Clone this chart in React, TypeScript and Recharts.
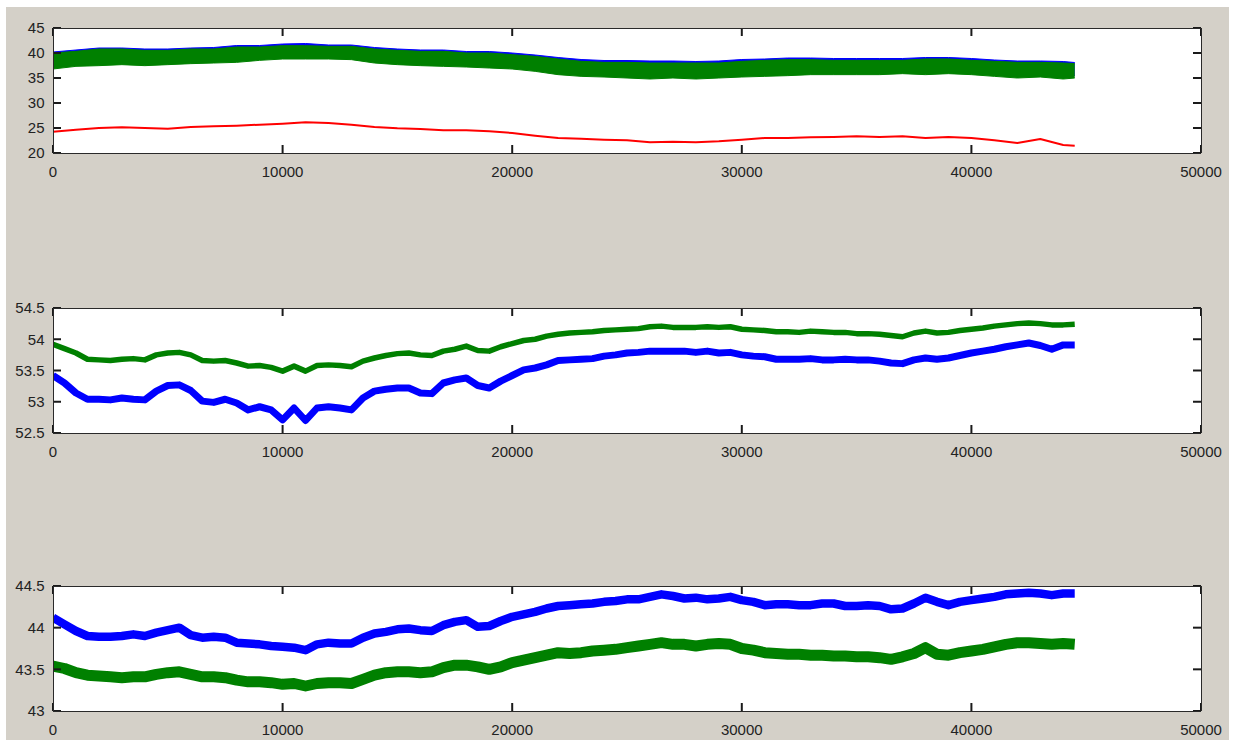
import React from 'react';
import { ComposedChart, Line, Area, XAxis, YAxis, ReferenceLine } from 'recharts';

// ---------- data ----------
const X_TICKS = [0, 10000, 20000, 30000, 40000, 50000];
const Y1_TICKS = [20, 25, 30, 35, 40, 45];
const Y2_TICKS = [52.5, 53, 53.5, 54, 54.5];
const Y3_TICKS = [43, 43.5, 44, 44.5];

// top panel sample positions
const P1_X = [
  0, 1000, 2000, 3000, 4000, 5000, 6000, 7000, 8000, 9000,
  10000, 11000, 12000, 13000, 14000, 15000, 16000, 17000, 18000, 19000,
  20000, 21000, 22000, 23000, 24000, 25000, 26000, 27000, 28000, 29000,
  30000, 31000, 32000, 33000, 34000, 35000, 36000, 37000, 38000, 39000,
  40000, 41000, 42000, 43000, 44000, 44500,
];
const P1_RED = [
  24.27, 24.67, 25.0, 25.13, 25.0, 24.87, 25.2, 25.33, 25.47, 25.67,
  25.87, 26.13, 26.0, 25.67, 25.2, 24.93, 24.8, 24.53, 24.53, 24.33,
  24.0, 23.47, 23.0, 22.85, 22.67, 22.53, 22.13, 22.27, 22.13, 22.33,
  22.67, 23.0, 23.0, 23.13, 23.2, 23.33, 23.2, 23.33, 23.0, 23.2,
  23.0, 22.53, 22.0, 22.8, 21.6, 21.47,
];
const P1_GREEN_HI = [
  40.0, 40.33, 40.8, 40.8, 40.53, 40.53, 40.8, 40.8, 41.2, 41.2,
  41.47, 41.47, 41.33, 41.33, 40.8, 40.53, 40.33, 40.33, 40.0, 40.0,
  39.67, 39.33, 38.8, 38.33, 38.13, 38.13, 38.0, 38.0, 38.0, 38.0,
  38.33, 38.53, 38.67, 38.67, 38.53, 38.53, 38.53, 38.53, 38.8, 38.8,
  38.53, 38.33, 38.13, 38.13, 38.0, 37.87,
];
const P1_GREEN_LO = [
  36.8, 37.33, 37.47, 37.67, 37.47, 37.67, 37.87, 38.0, 38.13, 38.53,
  38.8, 38.8, 38.8, 38.67, 38.0, 37.67, 37.47, 37.33, 37.2, 37.0,
  36.8, 36.33, 35.67, 35.33, 35.2, 35.0, 34.8, 35.0, 34.8, 35.0,
  35.2, 35.33, 35.47, 35.67, 35.67, 35.67, 35.67, 35.87, 35.67, 35.87,
  35.67, 35.33, 35.0, 35.2, 34.8, 35.0,
];
const P1_BLUE_HI = [
  40.2, 40.6, 41.0, 41.0, 40.8, 40.8, 41.0, 41.1, 41.5, 41.5,
  41.8, 41.9, 41.6, 41.6, 41.1, 40.8, 40.6, 40.6, 40.3, 40.3,
  40.0, 39.6, 39.1, 38.7, 38.5, 38.5, 38.4, 38.4, 38.3, 38.4,
  38.7, 38.8, 39.0, 39.0, 38.9, 38.9, 38.9, 38.9, 39.1, 39.1,
  38.9, 38.6, 38.4, 38.4, 38.3, 38.1,
];
const P1_BLUE_LO = [
  37.3, 37.8, 38.0, 38.2, 38.0, 38.2, 38.4, 38.5, 38.6, 39.0,
  39.3, 39.3, 39.3, 39.1, 38.5, 38.2, 38.0, 37.8, 37.7, 37.5,
  37.3, 36.8, 36.2, 35.8, 35.7, 35.5, 35.3, 35.5, 35.3, 35.5,
  35.7, 35.8, 36.0, 36.2, 36.2, 36.2, 36.2, 36.4, 36.2, 36.4,
  36.2, 35.8, 35.5, 35.7, 35.3, 35.5,
];

// middle and bottom panel sample positions
const P23_X = [
  0, 500, 1000, 1500, 2000, 2500, 3000, 3500, 4000, 4500,
  5000, 5500, 6000, 6500, 7000, 7500, 8000, 8500, 9000, 9500,
  10000, 10500, 11000, 11500, 12000, 12500, 13000, 13500, 14000, 14500,
  15000, 15500, 16000, 16500, 17000, 17500, 18000, 18500, 19000, 19500,
  20000, 20500, 21000, 21500, 22000, 22500, 23000, 23500, 24000, 24500,
  25000, 25500, 26000, 26500, 27000, 27500, 28000, 28500, 29000, 29500,
  30000, 30500, 31000, 31500, 32000, 32500, 33000, 33500, 34000, 34500,
  35000, 35500, 36000, 36500, 37000, 37500, 38000, 38500, 39000, 39500,
  40000, 40500, 41000, 41500, 42000, 42500, 43000, 43500, 44000, 44500,
];
const P2_GREEN = [
  53.92, 53.85, 53.78, 53.68, 53.67, 53.66, 53.68, 53.69, 53.67, 53.75,
  53.78, 53.79, 53.75, 53.66, 53.65, 53.66, 53.62, 53.57, 53.58, 53.55,
  53.49, 53.57, 53.49, 53.58, 53.59, 53.58, 53.56, 53.65, 53.70, 53.74,
  53.77, 53.78, 53.75, 53.74, 53.81, 53.84, 53.89, 53.82, 53.81, 53.88,
  53.93, 53.98, 54.00, 54.05, 54.08, 54.10, 54.11, 54.12, 54.14, 54.15,
  54.16, 54.17, 54.20, 54.21, 54.19, 54.19, 54.19, 54.20, 54.19, 54.20,
  54.16, 54.15, 54.14, 54.12, 54.12, 54.11, 54.13, 54.12, 54.11, 54.11,
  54.09, 54.09, 54.08, 54.06, 54.04, 54.10, 54.13, 54.10, 54.11, 54.14,
  54.16, 54.18, 54.21, 54.23, 54.25, 54.26, 54.25, 54.23, 54.23, 54.24,
];
const P2_BLUE = [
  53.42, 53.30, 53.14, 53.04, 53.04, 53.03, 53.06, 53.04, 53.03, 53.17,
  53.26, 53.27, 53.18, 53.01, 52.99, 53.04, 52.98, 52.87, 52.92, 52.87,
  52.71, 52.90, 52.70, 52.90, 52.92, 52.90, 52.87, 53.06, 53.17, 53.20,
  53.22, 53.22, 53.14, 53.13, 53.30, 53.35, 53.38, 53.26, 53.22, 53.33,
  53.42, 53.51, 53.54, 53.59, 53.66, 53.67, 53.68, 53.69, 53.73, 53.75,
  53.78, 53.79, 53.81, 53.81, 53.81, 53.81, 53.79, 53.81, 53.78, 53.79,
  53.75, 53.73, 53.72, 53.68, 53.68, 53.68, 53.69, 53.67, 53.67, 53.68,
  53.67, 53.67, 53.65, 53.62, 53.61, 53.67, 53.70, 53.68, 53.70, 53.74,
  53.78, 53.81, 53.84, 53.88, 53.91, 53.94, 53.90, 53.84, 53.91, 53.91,
];
const P3_BLUE = [
  44.12, 44.04, 43.96, 43.90, 43.89, 43.89, 43.90, 43.92, 43.90, 43.94,
  43.97, 44.00, 43.91, 43.88, 43.89, 43.88, 43.82, 43.81, 43.80, 43.78,
  43.77, 43.76, 43.73, 43.80, 43.82, 43.81, 43.81, 43.88, 43.93, 43.95,
  43.98, 43.99, 43.97, 43.96, 44.03, 44.07, 44.09, 44.01, 44.02, 44.08,
  44.13, 44.16, 44.19, 44.23, 44.26, 44.27, 44.28, 44.29, 44.31, 44.32,
  44.34, 44.34, 44.37, 44.40, 44.38, 44.35, 44.36, 44.34, 44.35, 44.37,
  44.33, 44.31, 44.27, 44.28, 44.28, 44.27, 44.27, 44.29, 44.29, 44.26,
  44.26, 44.27, 44.26, 44.22, 44.23, 44.29, 44.36, 44.31, 44.27, 44.31,
  44.33, 44.35, 44.37, 44.40, 44.41, 44.42, 44.41, 44.39, 44.41, 44.41,
];
const P3_GREEN = [
  43.54, 43.51, 43.46, 43.43, 43.42, 43.41, 43.40, 43.41, 43.41, 43.44,
  43.46, 43.47, 43.44, 43.41, 43.41, 43.40, 43.37, 43.35, 43.35, 43.34,
  43.32, 43.33, 43.30, 43.33, 43.34, 43.34, 43.33, 43.38, 43.43, 43.46,
  43.47, 43.47, 43.46, 43.47, 43.52, 43.55, 43.55, 43.53, 43.50, 43.53,
  43.58, 43.61, 43.64, 43.67, 43.70, 43.69, 43.70, 43.72, 43.73, 43.74,
  43.76, 43.78, 43.80, 43.82, 43.80, 43.80, 43.78, 43.80, 43.81, 43.80,
  43.75, 43.73, 43.70, 43.69, 43.68, 43.68, 43.67, 43.67, 43.66, 43.66,
  43.65, 43.65, 43.64, 43.62, 43.65, 43.69, 43.76, 43.68, 43.67, 43.70,
  43.72, 43.74, 43.77, 43.80, 43.82, 43.82, 43.81, 43.80, 43.81, 43.80,
];

const data1 = P1_X.map((x, i) => ({
  x,
  red: P1_RED[i],
  green: [P1_GREEN_LO[i], P1_GREEN_HI[i]],
  blue: [P1_BLUE_LO[i], P1_BLUE_HI[i]],
}));
const data2 = P23_X.map((x, i) => ({ x, green: P2_GREEN[i], blue: P2_BLUE[i] }));
const data3 = P23_X.map((x, i) => ({ x, green: P3_GREEN[i], blue: P3_BLUE[i] }));

// ---------- styles ----------
const AX = '#2a2a2a';
const TICK = '#1a1a1a';
const TXT = '#222222';
const FONT = '"Liberation Sans", Arial, Helvetica, sans-serif';
const FS = 15;
const TL = 8; // inward tick length
const TW = 2; // tick stroke width
const BLUE = '#0000ff';
const GREEN = '#008000';
const RED = '#ff0000';

const BottomLabel = (p: any) => (
  <text x={p.x} y={p.y + 18.5} dy="0.36em" textAnchor="middle" fontSize={FS} fontFamily={FONT} fill={TXT}>
    {p.payload.value}
  </text>
);
const LeftLabel = (p: any) => (
  <text x={p.x - 8.5} y={p.y} dy="0.36em" textAnchor="end" fontSize={FS} fontFamily={FONT} fill={TXT}>
    {p.payload.value}
  </text>
);
const NoLabel = () => <g />;

// inward tick marks at both ends of a reference line spanning the plot
const XTickMarks = (p: any) => {
  const t = Math.min(Number(p.y1), Number(p.y2));
  const b = Math.max(Number(p.y1), Number(p.y2));
  const x = Number(p.x1);
  return (
    <g>
      <path d={`M${x},${t}V${t + TL}`} stroke={TICK} strokeWidth={TW} fill="none" />
      <path d={`M${x},${b}V${b - TL}`} stroke={TICK} strokeWidth={TW} fill="none" />
    </g>
  );
};
const YTickMarks = (p: any) => {
  const l = Math.min(Number(p.x1), Number(p.x2));
  const r = Math.max(Number(p.x1), Number(p.x2));
  const y = Number(p.y1);
  return (
    <g>
      <path d={`M${l},${y}H${l + TL}`} stroke={TICK} strokeWidth={TW} fill="none" />
      <path d={`M${r},${y}H${r - TL}`} stroke={TICK} strokeWidth={TW} fill="none" />
    </g>
  );
};

const CW = 1234;
const CH = 165;
// the 1px top x-axis and 1px right y-axis take one pixel each from these margins
const MARGIN = { top: 9, right: 32, bottom: 0, left: 0 };
const PLOT_LEFT = 53;
const PLOT_TOP = 10;
const PLOT_W = 1148;
const PLOT_H = 125;

const lineStyle = { stroke: AX, strokeWidth: 1, shapeRendering: 'crispEdges' };

function axes(domain: [number, number], yTicks: number[]) {
  return [
    <XAxis
      key="xb"
      dataKey="x"
      type="number"
      domain={[0, 50000]}
      ticks={X_TICKS}
      interval={0}
      allowDataOverflow
      tick={BottomLabel}
      tickLine={false}
      tickSize={0}
      tickMargin={0}
      height={30}
      axisLine={lineStyle}
    />,
    <XAxis
      key="xt"
      xAxisId="t"
      orientation="top"
      dataKey="x"
      type="number"
      domain={[0, 50000]}
      ticks={X_TICKS}
      interval={0}
      allowDataOverflow
      tick={NoLabel}
      tickLine={false}
      tickSize={0}
      tickMargin={0}
      height={1}
      axisLine={lineStyle}
    />,
    <YAxis
      key="yl"
      type="number"
      domain={domain}
      ticks={yTicks}
      interval={0}
      allowDataOverflow
      tick={LeftLabel}
      tickLine={false}
      tickSize={0}
      tickMargin={0}
      width={53}
      axisLine={lineStyle}
    />,
    <YAxis
      key="yr"
      yAxisId="r"
      orientation="right"
      type="number"
      domain={domain}
      ticks={yTicks}
      interval={0}
      allowDataOverflow
      tick={NoLabel}
      tickLine={false}
      tickSize={0}
      tickMargin={0}
      width={1}
      axisLine={lineStyle}
    />,
    ...X_TICKS.map((v) => (
      <ReferenceLine key={'rx' + v} x={v} ifOverflow="visible" stroke={TICK} shape={XTickMarks} />
    )),
    ...yTicks.map((v) => (
      <ReferenceLine key={'ry' + v} y={v} ifOverflow="visible" stroke={TICK} shape={YTickMarks} />
    )),
  ];
}

const Panel = ({ top, children }: { top: number; children: React.ReactNode }) => (
  <>
    <div
      style={{
        position: 'absolute',
        left: PLOT_LEFT,
        top: top + PLOT_TOP,
        width: PLOT_W,
        height: PLOT_H,
        background: '#ffffff',
      }}
    />
    <div style={{ position: 'absolute', left: 0, top }}>{children}</div>
  </>
);

export default function App() {
  return (
    <div style={{ position: 'absolute', left: 0, top: 0, width: 1234, height: 740, background: '#ffffff', overflow: 'hidden' }}>
      <div style={{ position: 'absolute', left: 6, top: 7, width: 1223, height: 733, background: '#d4d0c8' }} />

      <Panel top={18}>
        <ComposedChart width={CW} height={CH} data={data1} margin={MARGIN}>
          <Area dataKey="blue" type="linear" stroke={BLUE} strokeWidth={1} fill={BLUE} fillOpacity={1} dot={false} activeDot={false} isAnimationActive={false} />
          <Area dataKey="green" type="linear" stroke={GREEN} strokeWidth={1} fill={GREEN} fillOpacity={1} dot={false} activeDot={false} isAnimationActive={false} />
          <Line dataKey="red" type="linear" stroke={RED} strokeWidth={2} strokeLinejoin="round" dot={false} activeDot={false} isAnimationActive={false} />
          {axes([20, 45], Y1_TICKS)}
        </ComposedChart>
      </Panel>

      <Panel top={298}>
        <ComposedChart width={CW} height={CH} data={data2} margin={MARGIN}>
          <Line dataKey="blue" type="linear" stroke={BLUE} strokeWidth={7} strokeLinejoin="round" dot={false} activeDot={false} isAnimationActive={false} />
          <Line dataKey="green" type="linear" stroke={GREEN} strokeWidth={5.5} strokeLinejoin="round" dot={false} activeDot={false} isAnimationActive={false} />
          {axes([52.5, 54.5], Y2_TICKS)}
        </ComposedChart>
      </Panel>

      <Panel top={576}>
        <ComposedChart width={CW} height={CH} data={data3} margin={MARGIN}>
          <Line dataKey="blue" type="linear" stroke={BLUE} strokeWidth={8.5} strokeLinejoin="round" dot={false} activeDot={false} isAnimationActive={false} />
          <Line dataKey="green" type="linear" stroke={GREEN} strokeWidth={11} strokeLinejoin="round" dot={false} activeDot={false} isAnimationActive={false} />
          {axes([43, 44.5], Y3_TICKS)}
        </ComposedChart>
      </Panel>
    </div>
  );
}
